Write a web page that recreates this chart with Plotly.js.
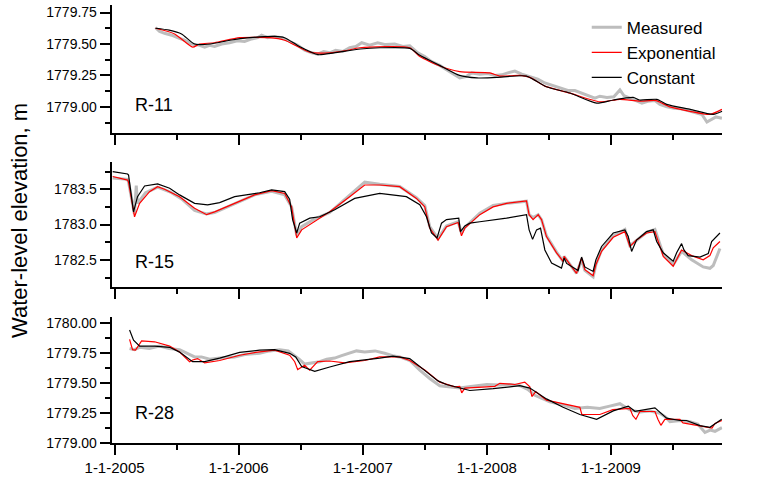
<!DOCTYPE html>
<html>
<head>
<meta charset="utf-8">
<script src="https://cdn.plot.ly/plotly-3.0.1.min.js"></script>
<style>html,body{margin:0;padding:0;background:#fff;}#chart{width:763px;height:483px;}</style>
</head>
<body>
<div id="chart"></div>
<script>
// ---------- DATA (x in decimal years) ----------
const yearTickVals = [2005, 2006, 2007, 2008, 2009];
const yearTickText = ["1-1-2005", "1-1-2006", "1-1-2007", "1-1-2008", "1-1-2009"];
const halfYearTicks = [2005.5, 2006.5, 2007.5, 2008.5, 2009.5];
const seriesNames = ["Measured", "Exponential", "Constant"];
const wellNames = ["R-11", "R-15", "R-28"];

// R-11
const r11MeasX = [2005.33,2005.363,2005.403,2005.46,2005.508,2005.565,2005.62,2005.685,2005.726,2005.766,2005.806,2005.863,2005.927,2005.99,2006.048,2006.105,2006.153,2006.185,2006.234,2006.29,2006.347,2006.411,2006.476,2006.532,2006.589,2006.637,2006.685,2006.734,2006.782,2006.839,2006.895,2006.944,2006.992,2007.056,2007.121,2007.185,2007.258,2007.323,2007.379,2007.444,2007.5,2007.556,2007.621,2007.669,2007.718,2007.782,2007.831,2007.879,2007.944,2008.008,2008.065,2008.121,2008.169,2008.226,2008.282,2008.347,2008.411,2008.468,2008.524,2008.589,2008.653,2008.71,2008.766,2008.815,2008.871,2008.911,2008.968,2009.024,2009.073,2009.105,2009.153,2009.202,2009.25,2009.298,2009.355,2009.395,2009.452,2009.508,2009.565,2009.621,2009.677,2009.734,2009.774,2009.815,2009.847,2009.895];
const r11MeasY = [1779.63,1779.60,1779.585,1779.57,1779.55,1779.53,1779.50,1779.49,1779.475,1779.49,1779.48,1779.50,1779.51,1779.525,1779.52,1779.54,1779.55,1779.57,1779.55,1779.56,1779.55,1779.52,1779.49,1779.45,1779.43,1779.42,1779.44,1779.43,1779.45,1779.44,1779.47,1779.48,1779.51,1779.49,1779.51,1779.495,1779.50,1779.48,1779.485,1779.43,1779.40,1779.36,1779.33,1779.30,1779.27,1779.23,1779.24,1779.27,1779.26,1779.265,1779.25,1779.255,1779.27,1779.285,1779.26,1779.24,1779.22,1779.19,1779.17,1779.15,1779.13,1779.13,1779.11,1779.09,1779.07,1779.085,1779.075,1779.08,1779.135,1779.09,1779.07,1779.05,1779.03,1779.045,1779.05,1779.02,1779.00,1778.99,1778.985,1778.97,1778.955,1778.94,1778.88,1778.905,1778.92,1778.91];
const r11ExpX = [2005.33,2005.484,2005.63,2005.685,2005.806,2006.008,2006.25,2006.371,2006.573,2006.734,2006.855,2006.976,2007.379,2007.46,2007.621,2007.782,2008.024,2008.105,2008.266,2008.347,2008.468,2008.669,2008.911,2009.073,2009.234,2009.363,2009.476,2009.637,2009.798,2009.895];
const r11ExpY = [1779.625,1779.58,1779.475,1779.50,1779.51,1779.55,1779.55,1779.53,1779.435,1779.43,1779.445,1779.47,1779.47,1779.40,1779.325,1779.28,1779.27,1779.245,1779.25,1779.235,1779.165,1779.11,1779.04,1779.06,1779.045,1779.05,1779.0,1778.965,1778.94,1778.98];
const r11ConX = [2005.33,2005.44,2005.54,2005.645,2005.77,2005.93,2006.09,2006.29,2006.37,2006.49,2006.64,2006.77,2006.98,2007.14,2007.38,2007.46,2007.62,2007.78,2007.92,2008.08,2008.32,2008.48,2008.67,2008.885,2009.02,2009.18,2009.23,2009.37,2009.45,2009.64,2009.825,2009.898];
const r11ConY = [1779.625,1779.61,1779.58,1779.50,1779.50,1779.53,1779.55,1779.56,1779.55,1779.48,1779.415,1779.43,1779.46,1779.47,1779.465,1779.41,1779.33,1779.25,1779.23,1779.235,1779.245,1779.16,1779.11,1779.03,1779.055,1779.075,1779.055,1779.06,1779.02,1778.98,1778.94,1778.965];

// R-15
const r15MeasX = [2004.985,2005.105,2005.113,2005.16,2005.175,2005.185,2005.25,2005.347,2005.45,2005.55,2005.645,2005.74,2005.806,2005.968,2006.129,2006.266,2006.371,2006.427,2006.468,2006.508,2006.613,2006.734,2006.895,2007.016,2007.137,2007.298,2007.433,2007.5,2007.54,2007.607,2007.675,2007.769,2007.796,2007.823,2007.944,2008.051,2008.159,2008.32,2008.341,2008.373,2008.414,2008.441,2008.481,2008.562,2008.615,2008.623,2008.723,2008.764,2008.79,2008.857,2008.879,2008.925,2009.019,2009.113,2009.153,2009.207,2009.288,2009.355,2009.422,2009.502,2009.57,2009.651,2009.744,2009.798,2009.825,2009.879];
const r15MeasY = [1783.66,1783.64,1783.60,1783.15,1783.55,1783.30,1783.45,1783.53,1783.46,1783.35,1783.20,1783.15,1783.17,1783.30,1783.42,1783.47,1783.42,1783.25,1782.85,1782.97,1783.08,1783.17,1783.41,1783.60,1783.57,1783.54,1783.38,1783.27,1782.97,1782.80,1782.98,1783.04,1782.88,1782.96,1783.16,1783.27,1783.30,1783.33,1783.14,1783.10,1783.14,1783.07,1782.84,1782.61,1782.48,1782.55,1782.31,1782.50,1782.35,1782.26,1782.43,1782.64,1782.84,1782.93,1782.70,1782.78,1782.89,1782.93,1782.58,1782.43,1782.62,1782.50,1782.40,1782.38,1782.42,1782.66];
const r15ExpX = [2004.985,2005.105,2005.113,2005.161,2005.202,2005.282,2005.347,2005.403,2005.524,2005.645,2005.742,2005.806,2005.968,2006.129,2006.266,2006.371,2006.427,2006.468,2006.508,2006.613,2006.734,2006.895,2007.016,2007.137,2007.298,2007.433,2007.5,2007.54,2007.607,2007.675,2007.769,2007.796,2007.823,2007.944,2008.051,2008.159,2008.32,2008.341,2008.373,2008.414,2008.441,2008.481,2008.562,2008.615,2008.623,2008.723,2008.764,2008.79,2008.857,2008.879,2008.925,2009.019,2009.113,2009.153,2009.207,2009.288,2009.355,2009.422,2009.502,2009.57,2009.651,2009.744,2009.798,2009.825,2009.879];
const r15ExpY = [1783.68,1783.63,1783.60,1783.11,1783.30,1783.466,1783.536,1783.50,1783.395,1783.23,1783.14,1783.18,1783.30,1783.42,1783.48,1783.44,1783.25,1782.81,1782.925,1783.04,1783.18,1783.395,1783.56,1783.56,1783.536,1783.37,1783.25,1782.95,1782.78,1782.97,1783.03,1782.84,1782.95,1783.14,1783.25,1783.30,1783.335,1783.14,1783.07,1783.14,1783.07,1782.83,1782.60,1782.48,1782.55,1782.31,1782.526,1782.36,1782.275,1782.43,1782.62,1782.82,1782.90,1782.69,1782.78,1782.88,1782.90,1782.55,1782.41,1782.64,1782.56,1782.50,1782.56,1782.67,1782.76];
const r15ConX = [2004.985,2005.105,2005.113,2005.153,2005.185,2005.242,2005.347,2005.444,2005.524,2005.645,2005.75,2005.847,2005.968,2006.169,2006.266,2006.371,2006.411,2006.435,2006.468,2006.492,2006.573,2006.653,2006.774,2006.935,2007.137,2007.352,2007.46,2007.514,2007.554,2007.599,2007.635,2007.675,2007.774,2007.788,2007.823,2007.863,2007.944,2008.159,2008.32,2008.341,2008.369,2008.401,2008.433,2008.468,2008.522,2008.602,2008.623,2008.643,2008.736,2008.764,2008.79,2008.857,2008.879,2008.925,2009.019,2009.113,2009.14,2009.167,2009.207,2009.288,2009.341,2009.369,2009.422,2009.502,2009.53,2009.57,2009.589,2009.623,2009.718,2009.785,2009.812,2009.879];
const r15ConY = [1783.75,1783.716,1783.70,1783.18,1783.395,1783.546,1783.575,1783.514,1783.42,1783.30,1783.28,1783.31,1783.395,1783.45,1783.49,1783.466,1783.36,1783.07,1782.88,1783.02,1783.09,1783.11,1783.21,1783.37,1783.44,1783.395,1783.28,1783.11,1782.88,1782.81,1783.02,1783.07,1783.09,1782.90,1782.98,1783.02,1783.04,1783.09,1783.14,1782.925,1782.79,1782.925,1782.95,1782.64,1782.455,1782.384,1782.526,1782.45,1782.35,1782.54,1782.40,1782.336,1782.50,1782.69,1782.88,1782.925,1782.83,1782.62,1782.78,1782.90,1782.925,1782.76,1782.60,1782.48,1782.60,1782.73,1782.64,1782.56,1782.54,1782.59,1782.76,1782.88];

// R-28
const r28MeasX = [2005.121,2005.16,2005.202,2005.28,2005.363,2005.44,2005.524,2005.58,2005.645,2005.70,2005.766,2005.85,2005.968,2006.05,2006.169,2006.25,2006.331,2006.40,2006.452,2006.49,2006.532,2006.59,2006.653,2006.71,2006.774,2006.83,2006.895,2006.95,2007.016,2007.10,2007.177,2007.24,2007.298,2007.38,2007.46,2007.54,2007.621,2007.70,2007.782,2007.84,2007.903,2008.0,2008.105,2008.19,2008.266,2008.33,2008.387,2008.45,2008.508,2008.61,2008.71,2008.81,2008.911,2008.99,2009.073,2009.15,2009.234,2009.31,2009.395,2009.44,2009.476,2009.56,2009.637,2009.70,2009.758,2009.80,2009.839,2009.895];
const r28MeasY = [1779.79,1779.78,1779.80,1779.79,1779.81,1779.79,1779.78,1779.75,1779.72,1779.72,1779.70,1779.71,1779.72,1779.74,1779.75,1779.77,1779.78,1779.77,1779.73,1779.70,1779.66,1779.67,1779.68,1779.70,1779.71,1779.73,1779.75,1779.77,1779.76,1779.77,1779.75,1779.73,1779.72,1779.69,1779.61,1779.54,1779.48,1779.47,1779.46,1779.47,1779.48,1779.49,1779.485,1779.49,1779.48,1779.45,1779.40,1779.37,1779.345,1779.32,1779.29,1779.30,1779.29,1779.31,1779.33,1779.28,1779.26,1779.27,1779.25,1779.22,1779.18,1779.19,1779.18,1779.16,1779.09,1779.11,1779.10,1779.13];
const r28ExpX = [2005.121,2005.145,2005.169,2005.218,2005.323,2005.444,2005.524,2005.605,2005.629,2005.669,2005.726,2005.847,2006.008,2006.153,2006.29,2006.411,2006.452,2006.476,2006.532,2006.573,2006.637,2006.734,2006.855,2007.016,2007.137,2007.298,2007.379,2007.5,2007.621,2007.742,2007.782,2007.798,2007.823,2007.944,2008.065,2008.105,2008.226,2008.306,2008.347,2008.363,2008.395,2008.481,2008.75,2008.766,2008.911,2009.016,2009.153,2009.177,2009.202,2009.234,2009.355,2009.379,2009.403,2009.435,2009.556,2009.581,2009.718,2009.815,2009.839,2009.895];
const r28ExpY = [1779.866,1779.78,1779.776,1779.854,1779.846,1779.81,1779.76,1779.68,1779.694,1779.706,1779.67,1779.69,1779.734,1779.76,1779.776,1779.734,1779.68,1779.614,1779.65,1779.61,1779.68,1779.686,1779.67,1779.69,1779.72,1779.72,1779.69,1779.61,1779.51,1779.47,1779.475,1779.42,1779.46,1779.47,1779.475,1779.50,1779.49,1779.51,1779.47,1779.39,1779.43,1779.36,1779.30,1779.24,1779.24,1779.28,1779.29,1779.23,1779.20,1779.265,1779.265,1779.20,1779.15,1779.20,1779.20,1779.17,1779.147,1779.127,1779.166,1779.19];
const r28ConX = [2005.121,2005.153,2005.202,2005.323,2005.444,2005.524,2005.629,2005.726,2005.847,2006.008,2006.169,2006.29,2006.411,2006.46,2006.508,2006.613,2006.734,2006.895,2007.137,2007.244,2007.379,2007.486,2007.607,2007.675,2007.863,2008.051,2008.266,2008.347,2008.481,2008.615,2008.75,2008.885,2009.019,2009.14,2009.194,2009.355,2009.449,2009.556,2009.61,2009.718,2009.798,2009.893];
const r28ConY = [1779.944,1779.86,1779.81,1779.81,1779.80,1779.76,1779.68,1779.68,1779.71,1779.757,1779.776,1779.78,1779.75,1779.72,1779.64,1779.60,1779.636,1779.68,1779.71,1779.726,1779.706,1779.62,1779.52,1779.49,1779.44,1779.455,1779.48,1779.46,1779.37,1779.30,1779.24,1779.20,1779.27,1779.31,1779.267,1779.295,1779.21,1779.19,1779.19,1779.147,1779.133,1779.20];

// ---------- STYLE ----------
const FONT = "Liberation Sans, Arial, Helvetica, sans-serif";
const colors = ["#bdbdbd", "#ff0000", "#000000"];
const widths = [3, 1.2, 1.2];

const panels = [
  {meas:[r11MeasX,r11MeasY], exp:[r11ExpX,r11ExpY], con:[r11ConX,r11ConY], shape:'spline'},
  {meas:[r15MeasX,r15MeasY], exp:[r15ExpX,r15ExpY], con:[r15ConX,r15ConY], shape:'linear'},
  {meas:[r28MeasX,r28MeasY], exp:[r28ExpX,r28ExpY], con:[r28ConX,r28ConY], shape:'linear'}
];

const traces = [];
panels.forEach((p, i) => {
  const ax = i === 0 ? '' : String(i + 1);
  [p.meas, p.exp, p.con].forEach((s, k) => {
    traces.push({
      type: 'scatter', mode: 'lines',
      x: s[0], y: s[1],
      name: seriesNames[k],
      legendgroup: seriesNames[k],
      showlegend: i === 0,
      xaxis: 'x' + ax, yaxis: 'y' + ax,
      line: {color: colors[k], width: widths[k], shape: (k === 0 ? 'linear' : p.shape), smoothing: 0.6},
      hoverinfo: 'skip'
    });
  });
});

const xDomain = [111.7/763, 722.3/763];
const xRange = [2004.977, 2009.898];
function xAxis(anchor, labels) {
  return {
    domain: xDomain, range: xRange, anchor: anchor,
    showgrid: false, zeroline: false,
    showline: true, linecolor: '#000', linewidth: 2,
    tickmode: 'array', tickvals: yearTickVals, ticktext: yearTickText,
    showticklabels: labels,
    ticks: 'outside', ticklen: 10, tickwidth: 2, tickcolor: '#000',
    minor: {tickmode: 'array', tickvals: halfYearTicks, ticks: 'outside', ticklen: 5, tickwidth: 2, tickcolor: '#000', showgrid: false},
    tickfont: {family: FONT, size: 15, color: '#000'},
    automargin: false, fixedrange: true
  };
}
function yAxis(anchor, domain, range, dtick, fmt) {
  return {
    domain: domain, range: range, anchor: anchor,
    showgrid: false, zeroline: false,
    showline: true, linecolor: '#000', linewidth: 2,
    tickmode: 'linear', tick0: 1779, dtick: dtick, tickformat: fmt,
    ticks: 'outside', ticklen: 10, tickwidth: 2, tickcolor: '#000',
    minor: {dtick: dtick/2, tick0: 1779, ticks: 'outside', ticklen: 5, tickwidth: 2, tickcolor: '#000', showgrid: false},
    tickfont: {family: FONT, size: 14, color: '#000'},
    automargin: false, fixedrange: true
  };
}

const annotations = [
  {text: wellNames[0], x: 133/763, y: 1 - 105/483},
  {text: wellNames[1], x: 133/763, y: 1 - 261.5/483},
  {text: wellNames[2], x: 133/763, y: 1 - 413/483}
].map(a => Object.assign(a, {xref: 'paper', yref: 'paper', xanchor: 'left', yanchor: 'middle', showarrow: false, font: {family: FONT, size: 18, color: '#000'}}));

annotations.push({
  text: 'Water-level elevation, m', xref: 'paper', yref: 'paper',
  x: 20/763, y: 1 - 221/483, xanchor: 'center', yanchor: 'middle',
  textangle: -90, showarrow: false, font: {family: FONT, size: 22, color: '#000'}
});

const layout = {
  width: 763, height: 483,
  margin: {l: 0, r: 0, t: 0, b: 0},
  paper_bgcolor: '#fff', plot_bgcolor: 'rgba(0,0,0,0)',
  showlegend: true,
  legend: {x: 0.769, y: 0.980, xanchor: 'left', yanchor: 'top', bgcolor: 'rgba(0,0,0,0)', borderwidth: 0,
           font: {family: FONT, size: 17, color: '#000'}, tracegroupgap: 0},
  xaxis: xAxis('y', false),
  xaxis2: xAxis('y2', false),
  xaxis3: xAxis('y3', true),
  yaxis: yAxis('x', [1 - 133.3/483, 1 - 5/483], [1778.79, 1779.81], 0.25, '.2f'),
  yaxis2: yAxis('x2', [1 - 286.7/483, 1 - 161.7/483], [1782.12, 1783.89], 0.5, '.1f'),
  yaxis3: yAxis('x3', [1 - 443.3/483, 1 - 316.7/483], [1779.0, 1780.055], 0.25, '.2f'),
  annotations: annotations
};

Plotly.newPlot('chart', traces, layout, {staticPlot: true, displayModeBar: false});
</script>
</body>
</html>
